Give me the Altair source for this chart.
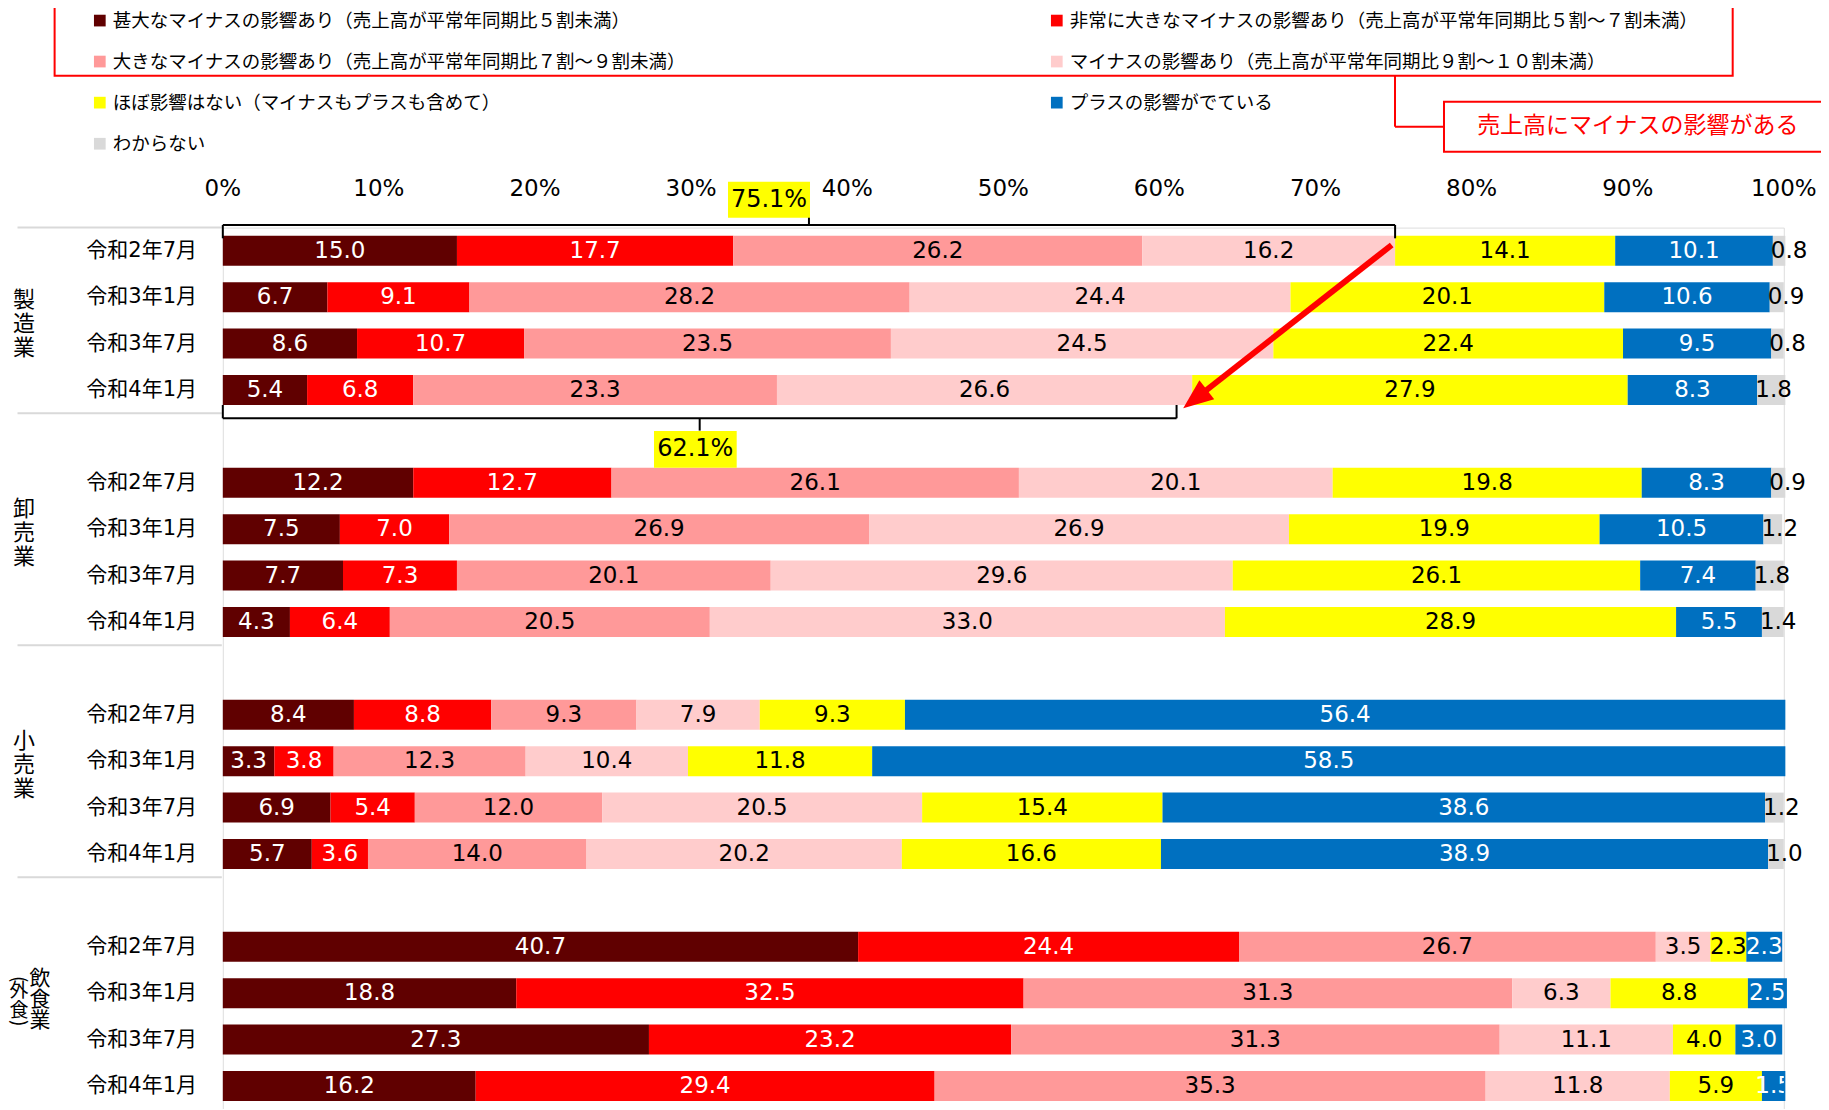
import math
import altair as alt
import pandas as pd

# ---------------- data ----------------
groups = ["製造業", "卸売業", "小売業", "飲食業"]
group_note = "外食"          # 飲食業（外食）
periods = ["令和2年7月", "令和3年1月", "令和3年7月", "令和4年1月"]
categories = [
    "甚大なマイナスの影響あり（売上高が平常年同期比５割未満）",
    "非常に大きなマイナスの影響あり（売上高が平常年同期比５割～７割未満）",
    "大きなマイナスの影響あり（売上高が平常年同期比７割～９割未満）",
    "マイナスの影響あり（売上高が平常年同期比９割～１０割未満）",
    "ほぼ影響はない（マイナスもプラスも含めて）",
    "プラスの影響がでている",
    "わからない",
]
colors = ["#600000", "#FF0000", "#FF9999", "#FFCCCC", "#FFFF00", "#0070C0", "#D9D9D9"]

# 16 values each: 製造業 x4, 卸売業 x4, 小売業 x4, 飲食業 x4
v_severe = [15.0, 6.7, 8.6, 5.4, 12.2, 7.5, 7.7, 4.3, 8.4, 3.3, 6.9, 5.7, 40.7, 18.8, 27.3, 16.2]
v_very = [17.7, 9.1, 10.7, 6.8, 12.7, 7.0, 7.3, 6.4, 8.8, 3.8, 5.4, 3.6, 24.4, 32.5, 23.2, 29.4]
v_large = [26.2, 28.2, 23.5, 23.3, 26.1, 26.9, 20.1, 20.5, 9.3, 12.3, 12.0, 14.0, 26.7, 31.3, 31.3, 35.3]
v_minus = [16.2, 24.4, 24.5, 26.6, 20.1, 26.9, 29.6, 33.0, 7.9, 10.4, 20.5, 20.2, 3.5, 6.3, 11.1, 11.8]
v_none = [14.1, 20.1, 22.4, 27.9, 19.8, 19.9, 26.1, 28.9, 9.3, 11.8, 15.4, 16.6, 2.3, 8.8, 4.0, 5.9]
v_plus = [10.1, 10.6, 9.5, 8.3, 8.3, 10.5, 7.4, 5.5, 56.4, 58.5, 38.6, 38.9, 2.3, 2.5, 3.0, 1.5]
v_unknown = [0.8, 0.9, 0.8, 1.8, 0.9, 1.2, 1.8, 1.4, None, None, 1.2, 1.0, None, None, None, None]
series = [v_severe, v_very, v_large, v_minus, v_none, v_plus, v_unknown]

bracket_labels = ["75.1%", "62.1%"]
bracket_ends = [75.1, 61.1]
callout_text = "売上高にマイナスの影響がある"
x_ticks = list(range(0, 101, 10))

# ---------------- layout ----------------
W, STEP, NS = 1561, 46.4, 19
H = STEP * NS
PL, PT = 214.8, 219.6
PR = 1813 - PL - W
FONT_NUM = "DejaVu Sans, Noto Sans CJK JP, sans-serif"
FONT_JP = "Noto Sans CJK JP, sans-serif"


def slot_of_px(px):
    return px / STEP - 0.5


rows = []
for ci, (cat, vals) in enumerate(zip(categories, series)):
    for k, v in enumerate(vals):
        g, i = divmod(k, 4)
        rows.append(dict(category=cat, order=ci, group=groups[g],
                         period=periods[i], slot=5 * g + i, value=v))
df = pd.DataFrame(rows)
row_df = df[df["order"] == 0][["group", "period", "slot"]]

xscale = alt.Scale(domain=[0, 100], nice=False, zero=True, padding=0)
yscale = alt.Scale(domain=[-0.5, NS - 0.5], reverse=True, nice=False, zero=False, padding=0)

xaxis = alt.Axis(orient="top", values=x_ticks, labels=False, ticks=False, domain=False,
                 grid=True, gridColor="#D9D9D9", gridWidth=1.5, title=None)

legend = alt.Legend(title=None, orient="none", direction="horizontal", legendX=-132.25, legendY=-216.4,
                    columns=2, symbolType="square", symbolSize=137, symbolStrokeWidth=0,
                    labelFont=FONT_JP, labelFontSize=18.5, labelLimit=1000, labelColor="black",
                    rowPadding=22.1, columnPadding=361, labelOffset=3.7, padding=0)


def stacked(ch):
    return (ch.transform_filter("isValid(datum.value)")
              .transform_stack(stack="value", groupby=["slot"], as_=["x0", "x1"],
                               sort=[alt.SortField("order", order="ascending")])
              .transform_calculate(mid="(datum.x0 + datum.x1) / 2"))


bars = stacked(alt.Chart(df)).mark_bar(size=30).encode(
    x=alt.X("x0:Q", scale=xscale, axis=xaxis),
    x2="x1:Q",
    y=alt.Y("slot:Q", scale=yscale, axis=None),
    color=alt.Color("category:N", scale=alt.Scale(domain=categories, range=colors), legend=legend),
)

white_cats = [categories[0], categories[1], categories[5]]
labels = stacked(alt.Chart(df)).transform_filter(
    alt.FieldOneOfPredicate(field="category", oneOf=categories[:6])
).mark_text(font=FONT_NUM, fontSize=23, baseline="middle", align="center", clip=True).encode(
    x=alt.X("mid:Q", scale=xscale, axis=None),
    y=alt.Y("slot:Q", scale=yscale, axis=None),
    text=alt.Text("value:Q", format=".1f"),
    color=alt.condition(alt.FieldOneOfPredicate(field="category", oneOf=white_cats),
                        alt.value("white"), alt.value("black")),
)

gray_labels = stacked(alt.Chart(df)).transform_filter(
    alt.FieldEqualPredicate(field="category", equal=categories[6])
).mark_text(font=FONT_NUM, fontSize=23, baseline="middle", align="left", dx=-2, color="black").encode(
    x=alt.X("x0:Q", scale=xscale, axis=None),
    y=alt.Y("slot:Q", scale=yscale, axis=None),
    text=alt.Text("value:Q", format=".1f"),
)

# tick labels, placed through the scales
x_labels = alt.Chart(pd.DataFrame({"t": x_ticks})).transform_calculate(
    lab="datum.t + '%'"
).mark_text(font=FONT_NUM, fontSize=23, baseline="middle", align="center", color="black").encode(
    x=alt.X("t:Q", scale=xscale, axis=None),
    y=alt.value(-38.5),
    text="lab:N",
)
y_labels = alt.Chart(row_df).mark_text(font=FONT_NUM, fontSize=21, baseline="middle", align="right",
                                       color="black").encode(
    x=alt.value(-25.8),
    y=alt.Y("slot:Q", scale=yscale, axis=None),
    text="period:N",
)

# group separators and vertical group names
gdf = pd.DataFrame({
    "name": ["\n".join(g) for g in groups],
    "gslot": [1.5 if g == 0 else 5 * g + 1 for g in range(4)],
    "sep": [-0.5 if g == 0 else 5 * g - 1.5 for g in range(4)],
})
seps = alt.Chart(gdf).mark_rule(color="#D9D9D9", strokeWidth=2).encode(
    x=alt.value(-205.3), x2=alt.value(-1),
    y=alt.Y("sep:Q", scale=yscale, axis=None),
)
gnames = alt.Chart(gdf.iloc[:3]).mark_text(font=FONT_JP, fontSize=22, lineBreak="\n", lineHeight=24,
                                          baseline="middle", align="center", color="black",
                                          dy=-20).encode(
    x=alt.value(-198.8),
    y=alt.Y("gslot:Q", scale=yscale, axis=None),
    text="name:N",
)
last = gdf.iloc[3:]
gname_last = alt.Chart(last).mark_text(font=FONT_JP, fontSize=21, lineBreak="\n", lineHeight=21,
                                       baseline="middle", align="center", color="black",
                                       dy=-14).encode(
    x=alt.value(-182.8),
    y=alt.Y("gslot:Q", scale=yscale, axis=None),
    text="name:N",
)
NOTE_X = -203.8
note_df = pd.DataFrame({"name": ["\n".join(group_note)], "gslot": [last["gslot"].iloc[0]]})
gnote = alt.Chart(note_df).mark_text(font=FONT_JP, fontSize=19, lineBreak="\n", lineHeight=20,
                                     baseline="middle", align="center", color="black",
                                     dy=-2).encode(
    x=alt.value(NOTE_X),
    y=alt.Y("gslot:Q", scale=yscale, axis=None),
    text="name:N",
)
# rotated parentheses: in the rotated frame dx runs downwards
paren_open = alt.Chart(note_df).mark_text(text="(", font=FONT_JP, fontSize=19, angle=90,
                                          baseline="middle", align="center", color="black",
                                          dx=-14).encode(
    x=alt.value(NOTE_X), y=alt.Y("gslot:Q", scale=yscale, axis=None))
paren_close = alt.Chart(note_df).mark_text(text=")", font=FONT_JP, fontSize=19, angle=90,
                                           baseline="middle", align="center", color="black",
                                           dx=30).encode(
    x=alt.value(NOTE_X), y=alt.Y("gslot:Q", scale=yscale, axis=None))

# brackets (x in data units)
e1, e2 = bracket_ends
u_h, u_e, u_t = slot_of_px(-2.6), slot_of_px(10.7), slot_of_px(-16.9)
l_h, l_e, l_t = slot_of_px(190.7), slot_of_px(177.4), slot_of_px(203.0)
br = pd.DataFrame([
    dict(x=0, x2=e1, y=u_h, y2=u_h), dict(x=0, x2=0, y=u_h, y2=u_e),
    dict(x=e1, x2=e1, y=u_h, y2=u_e), dict(x=e1 / 2, x2=e1 / 2, y=u_h, y2=u_t),
    dict(x=0, x2=e2, y=l_h, y2=l_h), dict(x=0, x2=0, y=l_h, y2=l_e),
    dict(x=e2, x2=e2, y=l_h, y2=l_e), dict(x=e2 / 2, x2=e2 / 2, y=l_h, y2=l_t),
])
brackets = alt.Chart(br).mark_rule(color="black", strokeWidth=2).encode(
    x=alt.X("x:Q", scale=xscale, axis=None), x2="x2:Q",
    y=alt.Y("y:Q", scale=yscale, axis=None), y2="y2:Q",
)

one = pd.DataFrame({"k": [0]})


def box(x, x2, y, y2, **kw):
    return alt.Chart(one).mark_rect(**kw).encode(
        x=alt.value(x), x2=alt.value(x2), y=alt.value(y), y2=alt.value(y2))


def label(txt, x, y, **kw):
    return alt.Chart(one).mark_text(text=txt, baseline="middle", align="center", **kw).encode(
        x=alt.value(x), y=alt.value(y))


br_box1 = box(505.2, 587.2, -45.9, -9.9, fill="#FFFF00")
br_txt1 = label(bracket_labels[0], 546.2, -27.9, font=FONT_NUM, fontSize=24, color="black")
br_box2 = box(431.2, 513.9, 203.4, 240.1, fill="#FFFF00")
br_txt2 = label(bracket_labels[1], 472.5, 221.7, font=FONT_NUM, fontSize=24, color="black")

legend_box = box(-168.2, 1509.9, -225.6, -151.9, fillOpacity=0, stroke="#FF0000", strokeWidth=2)
call_box = box(1221.2, 1640, -125.9, -75.9, fill="white", stroke="#FF0000", strokeWidth=2)
call_txt = label(callout_text, 1415, -101.5, font=FONT_JP, fontSize=23, color="#FF0000")
conn_v = alt.Chart(one).mark_rule(color="#FF0000", strokeWidth=2).encode(
    x=alt.value(1172.2), y=alt.value(-151.9), y2=alt.value(-100.9))
conn_h = alt.Chart(one).mark_rule(color="#FF0000", strokeWidth=2).encode(
    x=alt.value(1172.2), x2=alt.value(1221.2), y=alt.value(-100.9))

# arrow
a0x, a0y, a1x, a1y = 1168.9, 17.4, 960.4, 180.7
dx, dy = a1x - a0x, a1y - a0y
ln = math.hypot(dx, dy)
ux, uy = dx / ln, dy / ln
ang = (math.degrees(math.atan2(ux, -uy)) + 360) % 360
arrow_line = alt.Chart(one).mark_rule(color="#FF0000", strokeWidth=6, strokeCap="butt").encode(
    x=alt.value(a0x), y=alt.value(a0y), x2=alt.value(a1x - 24 * ux), y2=alt.value(a1y - 24 * uy))
arrow_head = alt.Chart(one).mark_point(shape="M0,0L-0.8,2L0.8,2Z", size=900, angle=ang,
                                       filled=True, color="#FF0000", opacity=1, strokeWidth=0).encode(
    x=alt.value(a1x), y=alt.value(a1y))

chart = alt.layer(
    bars, labels, gray_labels, x_labels, y_labels, seps, gnames, gname_last, gnote,
    paren_open, paren_close, brackets,
    br_box1, br_txt1, br_box2, br_txt2, legend_box, conn_v, conn_h, call_box, call_txt,
    arrow_line, arrow_head,
).properties(
    width=W, height=H, autosize="none",
    padding={"left": PL, "top": PT, "right": PR, "bottom": 0},
).configure_view(stroke=None).configure(background="white")

chart.save("out.html", embed_options={"renderer": "svg", "actions": False})
